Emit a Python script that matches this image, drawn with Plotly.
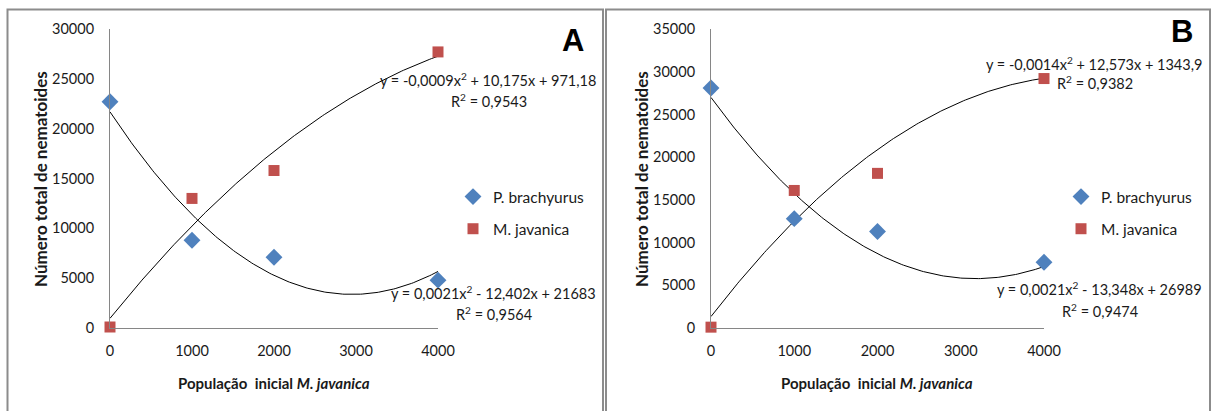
import numpy as np
import plotly.graph_objects as go

# ---------------- data ----------------
x_pop = [0, 1000, 2000, 4000]
x_ticks = [0, 1000, 2000, 3000, 4000]

a_brachyurus = [22700, 8800, 7100, 4800]
a_javanica = [100, 13000, 15800, 27700]
b_brachyurus = [28100, 12800, 11300, 7700]
b_javanica = [100, 16100, 18100, 29200]

# fitted polynomial coefficients shown on the chart (a*x^2 + b*x + c)
a_brachyurus_fit = [0.0021, -12.402, 21683]
a_javanica_fit = [-0.0009, 10.175, 971.18]
b_brachyurus_fit = [0.0021, -13.348, 26989]
b_javanica_fit = [-0.0014, 12.573, 1343.9]

a_brachyurus_eq = ["y = 0,0021x<sup>2</sup> - 12,402x + 21683", "R<sup>2</sup> = 0,9564"]
a_javanica_eq = ["y = -0,0009x<sup>2</sup> + 10,175x + 971,18", "R<sup>2</sup> = 0,9543"]
b_brachyurus_eq = ["y = 0,0021x<sup>2</sup> - 13,348x + 26989", "R<sup>2</sup> = 0,9474"]
b_javanica_eq = ["y = -0,0014x<sup>2</sup> + 12,573x + 1343,9", "R<sup>2</sup> = 0,9382"]

series_names = ["P. brachyurus", "M. javanica"]
y_title = "Número total de nematoides"
x_title = "População  inicial <i>M. javanica</i>"
panel_labels = ["A", "B"]

# ---------------- style ----------------
W, H = 1213, 411
FONT = "Lato"
TXT = "#1a1a1a"
BLUE = "#4F81BD"
RED = "#C0504D"
AXC = "#868686"


def px(xp):
    return xp / W


def py(yp):
    return 1 - yp / H


def trend(coefs, xmax):
    xs = np.linspace(0, xmax, 200)
    return xs, np.polyval(coefs, xs)


fig = go.Figure()

panels = [
    dict(xa="x", ya="y", leg="legend", pb=a_brachyurus, mj=a_javanica,
         pbf=a_brachyurus_fit, mjf=a_javanica_fit),
    dict(xa="x2", ya="y2", leg="legend2", pb=b_brachyurus, mj=b_javanica,
         pbf=b_brachyurus_fit, mjf=b_javanica_fit),
]

for p in panels:
    for coefs in (p["pbf"], p["mjf"]):
        xs, ys = trend(coefs, max(x_pop))
        fig.add_trace(go.Scatter(x=xs, y=ys, mode="lines", xaxis=p["xa"], yaxis=p["ya"],
                                 line=dict(color="black", width=1), showlegend=False,
                                 hoverinfo="skip"))
    fig.add_trace(go.Scatter(x=x_pop, y=p["pb"], mode="markers", name=series_names[0],
                             xaxis=p["xa"], yaxis=p["ya"], legend=p["leg"], legendgroup="pb",
                             cliponaxis=False,
                             marker=dict(symbol="diamond", size=13, color=BLUE)))
    fig.add_trace(go.Scatter(x=x_pop, y=p["mj"], mode="markers", name=series_names[1],
                             xaxis=p["xa"], yaxis=p["ya"], legend=p["leg"], legendgroup="mj",
                             cliponaxis=False,
                             marker=dict(symbol="square", size=11, color=RED)))

axis_common = dict(showline=True, linecolor=AXC, linewidth=1, showgrid=False, zeroline=False,
                   ticks="", automargin=False, tickformat="d",
                   tickfont=dict(family=FONT, size=14.5, color=TXT))

fig.update_layout(
    template="none",
    width=W, height=H, margin=dict(l=0, r=0, t=0, b=0, pad=0), autosize=False,
    paper_bgcolor="white", plot_bgcolor="white",
    xaxis=dict(domain=[px(110), px(438)], range=[0, 4000], tickvals=x_ticks, anchor="y",
               ticklabelstandoff=10, **axis_common),
    yaxis=dict(domain=[py(328), py(29)], range=[0, 30000], dtick=5000, anchor="x",
               ticklabelstandoff=12, **axis_common),
    xaxis2=dict(domain=[px(711), px(1044)], range=[0, 4000], tickvals=x_ticks, anchor="y2",
                ticklabelstandoff=10, **axis_common),
    yaxis2=dict(domain=[py(328), py(29)], range=[0, 35000], dtick=5000, anchor="x2",
                ticklabelstandoff=12, **axis_common),
    legend=dict(x=px(453), y=py(180), xanchor="left", yanchor="top", bgcolor="rgba(0,0,0,0)",
                font=dict(family=FONT, size=15.5, color=TXT), tracegroupgap=9, itemwidth=30),
    legend2=dict(x=px(1061), y=py(180), xanchor="left", yanchor="top", bgcolor="rgba(0,0,0,0)",
                 font=dict(family=FONT, size=15.5, color=TXT), tracegroupgap=9, itemwidth=30),
    showlegend=True,
)

# panel frames
for x0, x1 in [(7.5, 603), (606, 1210)]:
    fig.add_shape(type="rect", xref="paper", yref="paper", x0=px(x0), x1=px(x1),
                  y0=py(H + 5), y1=py(9.5), line=dict(color="#8c8c8c", width=2),
                  fillcolor="rgba(0,0,0,0)", layer="below")

ann = []


def text(xp, yp, s, size=14.5, bold=False, xanchor="center", angle=0):
    ann.append(dict(x=px(xp), y=py(yp), xref="paper", yref="paper", text=(f"<b>{s}</b>" if bold else s),
                    showarrow=False, xanchor=xanchor, yanchor="middle", textangle=angle,
                    font=dict(family=FONT, size=size, color=TXT)))


# equations
text(488, 79, a_javanica_eq[0]); text(489, 100, a_javanica_eq[1])
text(493, 292, a_brachyurus_eq[0]); text(494, 313, a_brachyurus_eq[1])
text(1094, 63, b_javanica_eq[0]); text(1095, 83, b_javanica_eq[1])
text(1099, 288, b_brachyurus_eq[0]); text(1100, 310, b_brachyurus_eq[1])

# panel letters
ann.append(dict(x=px(572.5), y=py(40), xref="paper", yref="paper", text="<b>A</b>", showarrow=False,
                yanchor="middle", font=dict(family="Liberation Sans", size=31, color="black")))
ann.append(dict(x=px(1195), y=py(31), xref="paper", yref="paper", text="<b>B</b>", showarrow=False,
                yanchor="middle", font=dict(family="Liberation Sans", size=31, color="black")))

# axis titles
for cx, ycx in [(274, 40), (877, 641)]:
    text(cx, 383, x_title, size=15, bold=True)
    text(ycx, 179, y_title, size=17, bold=True, angle=-90)

fig.update_layout(annotations=ann)
fig.write_html("out.html")
